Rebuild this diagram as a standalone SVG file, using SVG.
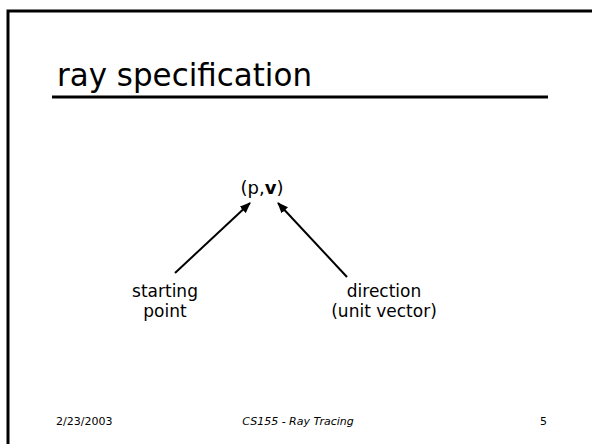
<svg xmlns="http://www.w3.org/2000/svg" width="592" height="444" viewBox="0 0 592 444">
<style>
text{font-family:"DejaVu Sans","Liberation Sans",sans-serif;fill:#000}
.lbl{font-size:17px;text-anchor:middle}
.foot{font-size:11px}
.conn{stroke:#000;stroke-width:2;fill:none;marker-end:url(#ah)}
</style>
<defs>
<marker id="ah" markerWidth="11" markerHeight="10" refX="10" refY="5" orient="auto" markerUnits="userSpaceOnUse">
<path d="M0,0.5 L11,5 L0,9.5 Z" fill="#000"/>
</marker>
</defs>
<rect width="592" height="444" fill="#fff"/>
<path d="M8,444 V11 H592" fill="none" stroke="#000" stroke-width="3"/>
<g id="title">
<text x="57" y="86" font-size="32" textLength="255" lengthAdjust="spacingAndGlyphs">ray specification</text>
<line x1="52" y1="97" x2="548" y2="97" stroke="#000" stroke-width="3"/>
</g>
<g id="ray">
<text x="262" y="194" font-size="18" text-anchor="middle">(p,<tspan font-weight="bold">v</tspan>)</text>
</g>
<g id="start">
<text class="lbl" x="165" y="297">starting</text>
<text class="lbl" x="165" y="317">point</text>
</g>
<g id="dir">
<text class="lbl" x="384" y="297">direction</text>
<text class="lbl" x="384" y="317">(unit vector)</text>
</g>
<g id="connectors">
<line class="conn" x1="175" y1="273" x2="250" y2="203"/>
<line class="conn" x1="347" y1="277" x2="278" y2="203"/>
</g>
<g id="footer">
<text class="foot" x="56" y="425">2/23/2003</text>
<text class="foot" x="298" y="425" text-anchor="middle" font-style="italic">CS155 - Ray Tracing</text>
<text class="foot" x="540" y="425">5</text>
</g>
</svg>
